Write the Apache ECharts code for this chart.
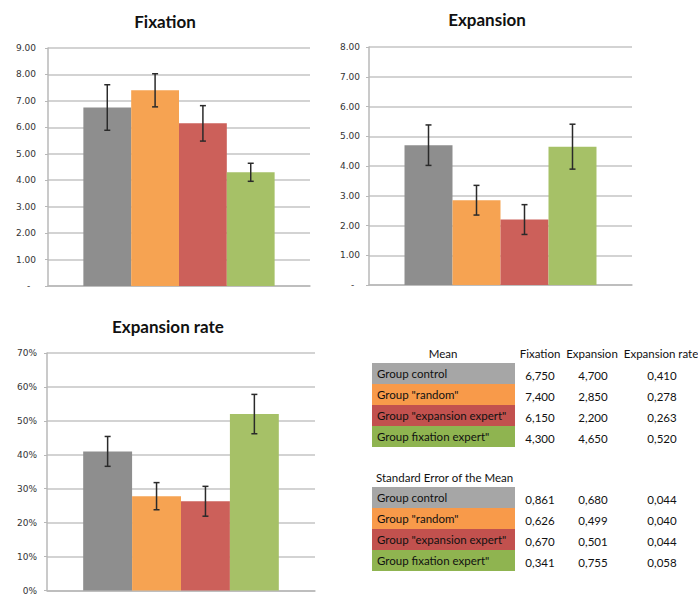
<!DOCTYPE html>
<html>
<head>
<meta charset="utf-8">
<script src="https://cdn.jsdelivr.net/npm/echarts@6/dist/echarts.min.js"></script>
<style>
html,body{margin:0;padding:0;background:#fff;}
#chart{width:698px;height:595px;}
</style>
</head>
<body>
<div id="chart"></div>
<script>
// ---- data ----
const groups = ['Group control', 'Group "random"', 'Group "expansion expert"', 'Group fixation expert"'];
const measures = ['Fixation', 'Expansion', 'Expansion rate'];
const fixationMean = [6.750, 7.400, 6.150, 4.300];
const expansionMean = [4.700, 2.850, 2.200, 4.650];
const rateMean = [0.410, 0.278, 0.263, 0.520];
const fixationSem = [0.861, 0.626, 0.670, 0.341];
const expansionSem = [0.680, 0.499, 0.501, 0.755];
const rateSem = [0.044, 0.040, 0.044, 0.058];
const meanTableTitle = 'Mean';
const semTableTitle = 'Standard Error of the Mean';

// ---- styles ----
const barColors = ['#8e8e8e', '#f6a352', '#cc605a', '#a6c167'];
const cellColors = ['#a6a6a6', '#f89a4a', '#c2514e', '#8fb450'];
const GAP = 0.27;
const tickFont = 'DejaVu Sans';
const tableFont = 'Lato';

const grids = [
  {left: 48, right: 388, top: 48, bottom: 309},
  {left: 369, right: 66, top: 47, bottom: 310},
  {left: 47, right: 383, top: 353, bottom: 3}
];
const yCfg = [
  {max: 9, interval: 1, fmt: v => v === 0 ? '-  ' : v.toFixed(2), margin: 12},
  {max: 8, interval: 1, fmt: v => v === 0 ? '-  ' : v.toFixed(2), margin: 9},
  {max: 0.7, interval: 0.1, fmt: v => Math.round(v * 100) + '%', margin: 10}
];
const means = [fixationMean, expansionMean, rateMean];
const sems = [fixationSem, expansionSem, rateSem];

const xAxes = [], yAxes = [], series = [];
grids.forEach((g, k) => {
  xAxes.push({
    type: 'category', gridIndex: k, data: [''],
    axisLine: {show: true, lineStyle: {color: '#b8b8b8', width: 1.5}},
    axisTick: {show: false}, axisLabel: {show: false}
  });
  yAxes.push({
    type: 'value', gridIndex: k, min: 0, max: yCfg[k].max, interval: yCfg[k].interval,
    axisLine: {show: true, lineStyle: {color: '#b8b8b8', width: 1.5}},
    axisTick: {show: true, length: 3, lineStyle: {color: '#b8b8b8'}},
    splitLine: {show: true, lineStyle: {color: '#c4c4c4', width: 1.5}},
    axisLabel: {formatter: yCfg[k].fmt, fontFamily: tickFont, fontSize: 9, color: '#333',
      margin: yCfg[k].margin, padding: [5, 0, 0, 0]}
  });
  groups.forEach((name, i) => {
    series.push({
      type: 'bar', name: name, xAxisIndex: k, yAxisIndex: k,
      data: [means[k][i]],
      barGap: '0%', barCategoryGap: (GAP * 100) + '%',
      itemStyle: {color: barColors[i]},
      emphasis: {disabled: true}, silent: true
    });
  });
  series.push({
    type: 'custom', xAxisIndex: k, yAxisIndex: k, z: 10, silent: true,
    data: groups.map((_, i) => [0, i, means[k][i], sems[k][i]]),
    encode: {x: 0, y: 2},
    renderItem: function (params, api) {
      const i = api.value(1), m = api.value(2), e = api.value(3);
      const band = api.size([1, 0])[0];
      const bw = band * (1 - GAP) / groups.length;
      const cx = api.coord([0, m])[0] + (i - (groups.length - 1) / 2) * bw;
      const yt = api.coord([0, m + e])[1];
      const yb = api.coord([0, m - e])[1];
      const st = {stroke: '#2a2a2a', lineWidth: 1.5};
      const cap = 3;
      return {type: 'group', children: [
        {type: 'line', shape: {x1: cx, y1: yt, x2: cx, y2: yb}, style: st},
        {type: 'line', shape: {x1: cx - cap, y1: yt, x2: cx + cap, y2: yt}, style: st},
        {type: 'line', shape: {x1: cx - cap, y1: yb, x2: cx + cap, y2: yb}, style: st}
      ]};
    }
  });
});

const titles = [
  {text: measures[0], left: 165, top: 13},
  {text: measures[1], left: 487, top: 11},
  {text: measures[2], left: 168, top: 318}
].map(t => ({
  text: t.text, left: t.left, top: t.top, textAlign: 'center', padding: 0,
  textStyle: {fontFamily: 'Lato', fontWeight: 'bold', fontSize: 17, color: '#111'}
}));

// ---- table as graphic elements ----
const graphic = [];
const cellX = 372, cellW = 143, rowH = 21;
const colX = [540, 593, 662];
function fmtNum(v) { return v.toFixed(3).replace('.', ','); }
function addText(txt, x, y, align) {
  graphic.push({type: 'text', x: x, y: y, silent: true,
    style: {text: txt, fontFamily: tableFont, fontSize: 11.5, fill: '#111', align: align || 'center', verticalAlign: 'middle'}});
}
addText(meanTableTitle, 443, 353);
measures.forEach((m, j) => addText(m, [540, 592, 661][j], 353));
function addBlock(top, vals) {
  groups.forEach((name, i) => {
    const y = top + i * rowH;
    graphic.push({type: 'rect', x: cellX, y: y, silent: true, shape: {width: cellW, height: rowH}, style: {fill: cellColors[i]}});
    addText(name, cellX + 5, y + rowH / 2, 'left');
    vals.forEach((arr, j) => addText(fmtNum(arr[i]), colX[j], y + rowH / 2 + 2));
  });
}
addBlock(363, means);
addText(semTableTitle, 376, 477, 'left');
addBlock(487, sems);

const chart = echarts.init(document.getElementById('chart'), null, {renderer: 'svg'});
chart.setOption({
  animation: false,
  backgroundColor: '#fff',
  title: titles,
  grid: grids,
  xAxis: xAxes,
  yAxis: yAxes,
  series: series,
  graphic: graphic
});
</script>
</body>
</html>
